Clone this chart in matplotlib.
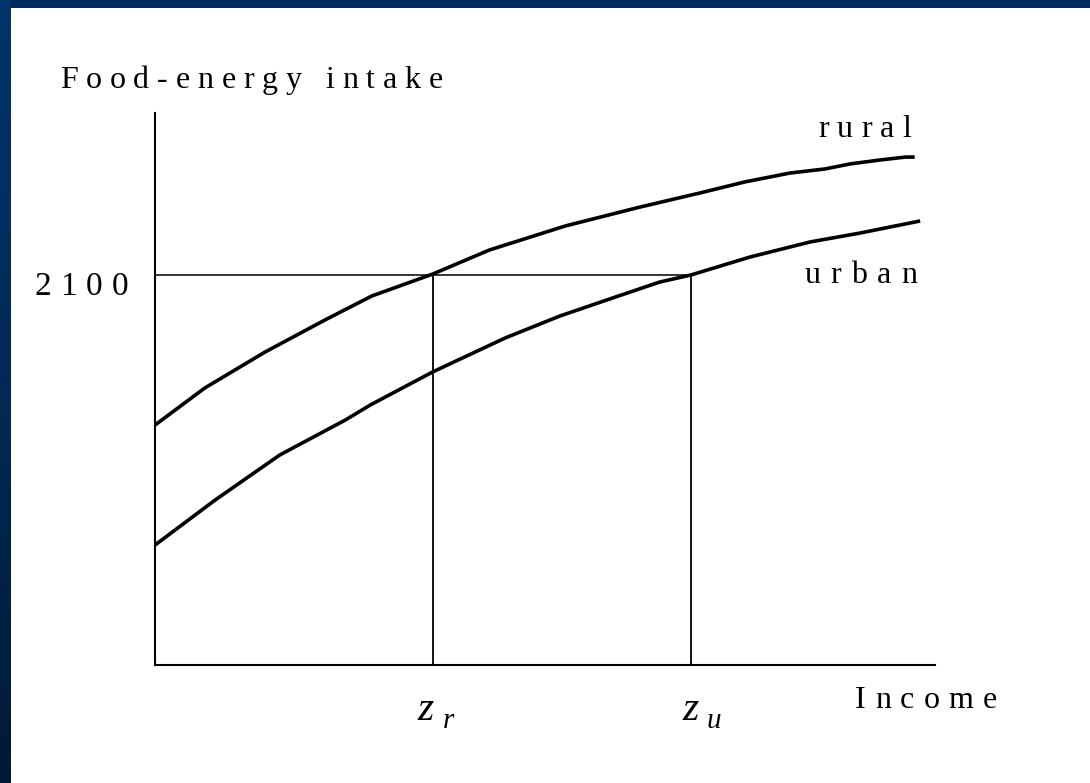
"""Food-energy intake vs income: rural and urban curves with poverty lines."""

import matplotlib

matplotlib.use("Agg")
import matplotlib.pyplot as plt
import numpy as np

W, H, DPI = 1090, 783, 100

# income on a 0-100 scale, intake in kcal
rural_income = [0, 6.4, 14.1, 21.8, 27.8, 35.6, 42.9, 52.6, 62.2, 69.9, 75.6, 81.4, 85.9, 89.1, 92.9, 96.2, 97.4]
rural_intake = [1292, 1492, 1685, 1858, 1987, 2105, 2235, 2364, 2466, 2542, 2601, 2649, 2671, 2698, 2719, 2735, 2735]

urban_income = [0, 7.7, 16.0, 24.4, 27.6, 35.6, 44.9, 51.9, 58.3, 64.7, 68.7, 76.3, 84.0, 90.4, 98.1]
urban_intake = [646, 888, 1131, 1319, 1400, 1578, 1761, 1879, 1971, 2062, 2100, 2197, 2278, 2326, 2391]

norm_intake = 2100
z_rural = 35.6
z_urban = 68.7

SERIF = "Liberation Serif"


def px(x, y):
    return x / W, 1 - y / H


def spaced_text(fig, s, x_left, x_right, y_base, size, **kw):
    """Draw s letter by letter so it spans x_left..x_right (pixels)."""
    renderer = fig.canvas.get_renderer()
    widths = []
    for ch in s:
        t = fig.text(0, 0, ch if ch != " " else "n", fontsize=size, family=SERIF, **kw)
        w = t.get_window_extent(renderer).width
        if ch == " ":
            w *= 0.5
        widths.append(w)
        t.remove()
    gap = (x_right - x_left - sum(widths)) / max(len(s) - 1, 1)
    x = x_left
    for ch, w in zip(s, widths):
        if ch != " ":
            fig.text(*px(x, y_base), ch, fontsize=size, family=SERIF, va="baseline", ha="left", **kw)
        x += w + gap


fig = plt.figure(figsize=(W / DPI, H / DPI), dpi=DPI, facecolor="white")

# slide frame: top band and left gradient band
top = fig.add_axes([0, 1 - 8 / H, 1, 8 / H])
top.set_axis_off()
top.add_patch(plt.Rectangle((0, 0), 1, 1, color="#002b5e", transform=top.transAxes))
left = fig.add_axes([0, 0, 11 / W, 1])
left.set_axis_off()
grad = np.linspace(0, 1, 256).reshape(-1, 1)
left.imshow(grad, aspect="auto", cmap=matplotlib.colors.LinearSegmentedColormap.from_list(
    "band", ["#00346a", "#002a56", "#001a36"]), extent=[0, 1, 0, 1])

# main axes: pixel 155..935 horizontally, 113..665 vertically
ax = fig.add_axes([155 / W, 1 - 665 / H, 780 / W, 552 / H])
ax.set_xlim(0, 100)
ax.set_ylim(0, 552 * norm_intake / 390)
ax.set_facecolor("none")
for side in ("top", "right"):
    ax.spines[side].set_visible(False)
for side in ("left", "bottom"):
    ax.spines[side].set_linewidth(1.5)
    ax.spines[side].set_color("black")
ax.set_xticks([])
ax.set_yticks([])

ax.plot(rural_income, rural_intake, color="black", lw=2.6, clip_on=False, solid_capstyle="butt")
ax.plot(urban_income, urban_intake, color="black", lw=2.6, clip_on=False, solid_capstyle="butt")

ax.plot([0, z_urban], [norm_intake, norm_intake], color="black", lw=1.1)
ax.plot([z_rural, z_rural], [0, norm_intake], color="black", lw=1.3)
ax.plot([z_urban, z_urban], [0, norm_intake], color="black", lw=1.3)

spaced_text(fig, "Food-energy intake", 60, 443, 88, 23)
spaced_text(fig, "2100", 35, 128, 295, 24)
spaced_text(fig, "rural", 818, 911, 137, 23)
spaced_text(fig, "urban", 805, 917, 283, 23)
spaced_text(fig, "Income", 855, 997, 708, 23)

fig.text(*px(417, 720), "z", fontsize=30, family=SERIF, style="italic", va="baseline")
fig.text(*px(443, 728), "r", fontsize=21, family=SERIF, style="italic", va="baseline")
fig.text(*px(682, 720), "z", fontsize=30, family=SERIF, style="italic", va="baseline")
fig.text(*px(707, 728), "u", fontsize=21, family=SERIF, style="italic", va="baseline")

fig.savefig("out.png", dpi=DPI, facecolor="white")
